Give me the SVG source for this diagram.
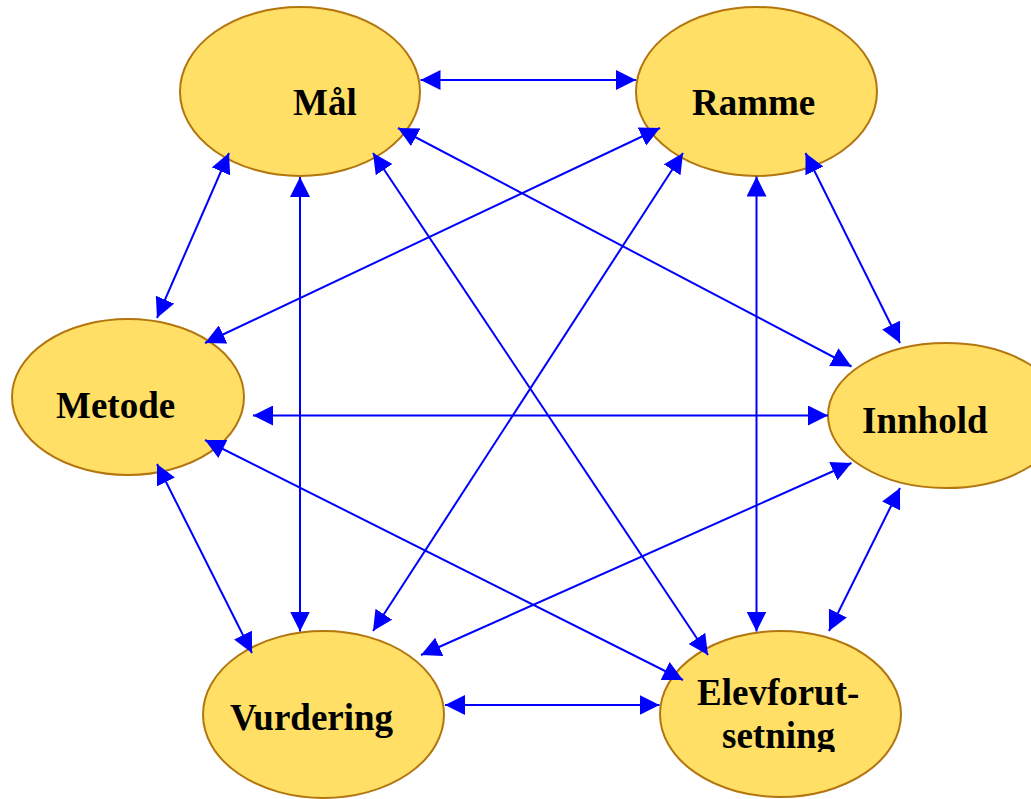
<svg xmlns="http://www.w3.org/2000/svg" width="1031" height="799" viewBox="0 0 1031 799">
<style>
.node ellipse{fill:#FFDF66;stroke:#B3750E;stroke-width:2}
.node text{font-family:"Liberation Serif","Times New Roman",serif;font-weight:bold;font-size:37px;fill:#000}
.conn line{stroke:#0000FF;stroke-width:2;marker-start:url(#ah);marker-end:url(#ah)}
</style>
<defs>
<marker id="ah" markerUnits="userSpaceOnUse" markerWidth="20" markerHeight="20" refX="20" refY="10" orient="auto-start-reverse" viewBox="0 0 20 20">
<path d="M0,0 L20,10 L0,20 z" fill="#0000FF"/>
</marker>
<clipPath id="clipE"><rect x="600" y="600" width="400" height="152"/></clipPath>
</defs>
<rect width="1031" height="799" fill="#FFFFFF"/>
<g id="node-maal" class="node"><ellipse cx="300" cy="91.5" rx="120" ry="84.5"/><text x="293" y="115">Mål</text></g>
<g id="node-ramme" class="node"><ellipse cx="756.5" cy="91.5" rx="120.5" ry="84.5"/><text x="692" y="115">Ramme</text></g>
<g id="node-metode" class="node"><ellipse cx="128" cy="397" rx="116" ry="78"/><text x="56" y="418">Metode</text></g>
<g id="node-innhold" class="node"><ellipse cx="946" cy="415.5" rx="118" ry="72.5"/><text x="862" y="433">Innhold</text></g>
<g id="node-vurdering" class="node"><ellipse cx="323.5" cy="714.5" rx="120.5" ry="83.5"/><text x="230" y="730">Vurdering</text></g>
<g id="node-elevforutsetning" class="node"><ellipse cx="780.5" cy="714" rx="120.5" ry="83"/><text x="697" y="705">Elevforut-</text><text x="722" y="748" clip-path="url(#clipE)">setning</text></g>
<g id="connectors" class="conn">
<line x1="420.5" y1="80" x2="636" y2="80"/>
<line x1="229" y1="153" x2="157" y2="318"/>
<line x1="300" y1="177" x2="300" y2="631.5"/>
<line x1="373" y1="153" x2="708" y2="655"/>
<line x1="398" y1="128" x2="851.5" y2="366.5"/>
<line x1="660" y1="128" x2="205" y2="343"/>
<line x1="683" y1="153" x2="373" y2="631"/>
<line x1="756.5" y1="176.5" x2="756.5" y2="631.5"/>
<line x1="805.5" y1="153" x2="900" y2="343"/>
<line x1="253" y1="415.5" x2="828" y2="415.5"/>
<line x1="157" y1="464" x2="252" y2="653"/>
<line x1="205" y1="440" x2="683" y2="680"/>
<line x1="851.5" y1="463" x2="421" y2="655"/>
<line x1="900" y1="488" x2="829" y2="631"/>
<line x1="445" y1="705" x2="659.5" y2="705"/>
</g>
</svg>
